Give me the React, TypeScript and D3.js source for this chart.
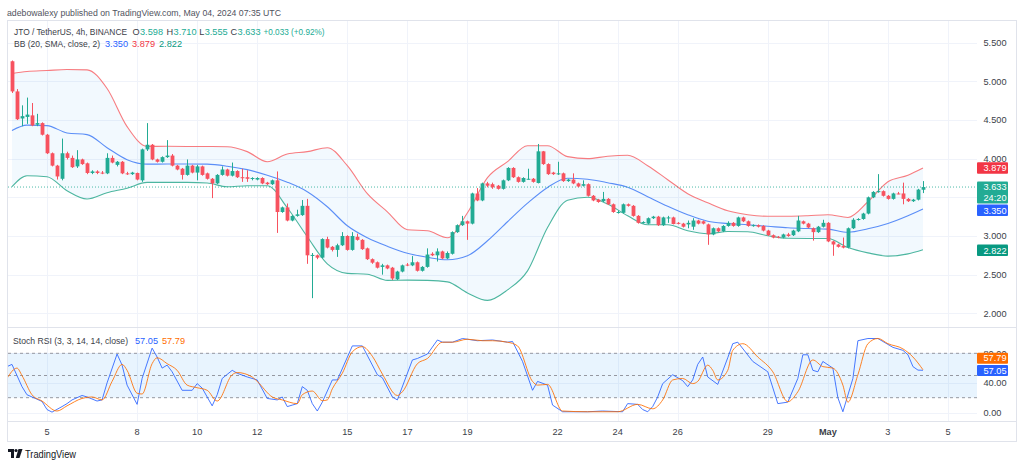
import React from "react";
import * as d3 from "d3";

const W = 1024;
const H = 467;
const FONT = "'Liberation Sans', Arial, sans-serif";
const HOUR4 = 4 * 3600 * 1000;
const DAY = 24 * 3600 * 1000;
const T0 = Date.UTC(2024, 3, 5); // Apr 5 2024 00:00 UTC
const FIRST_K = -7; // first visible 4h candle = Apr 3 20:00

// ---- candles (4h, k = -7 .. 175) ----
const opens = [
  5.26,4.87,4.52,4.54,4.56,4.44,4.46,4.31,4.07,3.91,
  3.74,4.07,4.01,3.90,3.99,3.94,3.815,3.835,3.82,3.81,
  4.01,3.92,3.96,3.81,3.80,3.815,3.72,4.12,4.18,3.99,
  3.96,4.02,4.04,3.91,3.87,3.79,3.91,3.82,3.90,3.81,
  3.74,3.68,3.79,3.86,3.78,3.84,3.76,3.76,3.74,3.73,
  3.75,3.69,3.67,3.72,3.31,3.37,3.20,3.26,3.27,3.39,
  2.75,2.75,2.72,2.96,2.86,2.82,2.88,3.00,2.82,2.99,
  2.95,2.84,2.70,2.66,2.60,2.62,2.59,2.44,2.54,2.63,
  2.62,2.66,2.55,2.60,2.77,2.75,2.80,2.71,2.77,3.05,
  3.14,3.19,3.16,3.55,3.46,3.68,3.67,3.65,3.61,3.72,
  3.88,3.76,3.70,3.74,3.74,3.685,4.095,3.93,3.82,3.80,
  3.81,3.71,3.73,3.68,3.65,3.67,3.52,3.47,3.45,3.48,
  3.41,3.30,3.30,3.41,3.39,3.26,3.17,3.16,3.23,3.25,
  3.14,3.23,3.24,3.17,3.16,3.15,3.12,3.20,3.19,3.15,
  3.02,3.10,3.06,3.13,3.17,3.13,3.24,3.19,3.13,3.14,
  3.13,3.07,3.01,2.99,2.98,3.02,3.01,3.06,3.19,3.16,
  3.10,3.05,3.12,3.17,2.93,2.89,2.87,2.85,3.10,3.21,
  3.22,3.29,3.50,3.57,3.58,3.52,3.48,3.55,3.55,3.48,
  3.45,3.47,3.598,
];
const highs = [
  5.27,4.90,4.69,4.79,4.72,4.58,4.47,4.32,4.08,3.92,
  4.26,4.09,4.04,4.11,4.00,3.95,3.85,3.85,3.84,4.07,
  4.04,3.97,3.97,3.83,3.83,3.82,4.13,4.46,4.19,4.00,
  4.03,4.24,4.06,3.92,3.88,3.99,3.92,3.92,3.91,3.82,
  3.75,3.80,3.90,3.87,3.95,3.85,3.87,3.85,3.76,3.76,
  3.76,3.70,3.73,3.835,3.38,3.42,3.27,3.34,3.465,3.48,
  2.78,2.76,2.97,2.99,2.87,2.90,3.05,3.01,3.05,3.03,
  2.96,2.85,2.71,2.67,2.64,2.63,2.60,2.55,2.63,2.65,
  2.74,2.67,2.61,2.84,2.79,2.84,2.81,2.80,3.06,3.15,
  3.26,3.20,3.56,3.62,3.69,3.70,3.69,3.66,3.73,3.89,
  3.89,3.77,3.76,3.87,3.75,4.19,4.10,3.94,3.83,3.96,
  3.82,3.74,3.81,3.69,3.72,3.68,3.53,3.48,3.57,3.49,
  3.42,3.33,3.42,3.42,3.40,3.27,3.19,3.24,3.26,3.26,
  3.25,3.26,3.25,3.18,3.17,3.20,3.23,3.21,3.20,3.16,
  3.11,3.11,3.14,3.19,3.18,3.25,3.25,3.20,3.15,3.15,
  3.14,3.08,3.02,3.00,3.03,3.04,3.08,3.26,3.20,3.17,
  3.11,3.13,3.21,3.18,2.94,2.90,2.98,3.11,3.23,3.23,
  3.30,3.51,3.58,3.80,3.59,3.53,3.56,3.57,3.69,3.49,
  3.48,3.61,3.71,
];
const lows = [
  4.85,4.50,4.42,4.45,4.42,4.42,4.30,4.06,3.90,3.73,
  3.72,3.99,3.88,3.88,3.92,3.80,3.80,3.80,3.80,3.80,
  3.94,3.90,3.80,3.79,3.79,3.72,3.70,4.10,3.98,3.95,
  3.95,4.01,3.90,3.85,3.73,3.78,3.81,3.72,3.78,3.73,
  3.49,3.67,3.78,3.77,3.77,3.75,3.70,3.70,3.72,3.72,
  3.67,3.66,3.66,3.04,3.30,3.19,3.19,3.25,3.26,2.64,
  2.196,2.70,2.71,2.84,2.80,2.73,2.87,2.81,2.81,2.94,
  2.82,2.69,2.64,2.58,2.50,2.57,2.43,2.43,2.53,2.61,
  2.61,2.54,2.54,2.59,2.74,2.67,2.70,2.70,2.76,3.04,
  3.13,2.95,3.15,3.45,3.45,3.63,3.61,3.60,3.60,3.71,
  3.75,3.69,3.69,3.73,3.69,3.68,3.92,3.79,3.79,3.79,
  3.70,3.70,3.67,3.63,3.64,3.51,3.45,3.43,3.44,3.40,
  3.30,3.29,3.29,3.38,3.25,3.16,3.16,3.15,3.22,3.13,
  3.13,3.17,3.15,3.15,3.11,3.10,3.08,3.15,3.15,2.886,
  3.01,3.05,3.05,3.12,3.12,3.12,3.18,3.12,3.12,3.11,
  3.06,3.00,2.97,2.97,2.97,2.99,3.00,3.05,3.15,3.10,
  2.94,3.04,3.11,2.92,2.744,2.85,2.84,2.84,3.09,3.20,
  3.21,3.28,3.49,3.56,3.51,3.47,3.47,3.54,3.41,3.44,
  3.44,3.46,3.555,
];
const closes = [
  4.87,4.51,4.55,4.57,4.43,4.46,4.31,4.07,3.91,3.77,
  4.07,4.01,3.89,3.99,3.93,3.815,3.835,3.815,3.81,4.01,
  3.95,3.96,3.81,3.80,3.82,3.73,4.12,4.18,3.99,3.96,
  4.02,4.04,3.91,3.86,3.79,3.91,3.82,3.90,3.79,3.74,
  3.68,3.79,3.86,3.78,3.84,3.76,3.75,3.74,3.75,3.75,
  3.68,3.67,3.72,3.31,3.37,3.20,3.26,3.28,3.39,2.75,
  2.755,2.72,2.96,2.85,2.82,2.88,3.00,2.82,3.00,2.95,
  2.83,2.70,2.655,2.59,2.62,2.58,2.45,2.54,2.62,2.62,
  2.66,2.55,2.60,2.76,2.75,2.80,2.71,2.78,3.05,3.14,
  3.19,3.16,3.55,3.46,3.68,3.65,3.63,3.61,3.72,3.88,
  3.76,3.70,3.75,3.74,3.70,4.095,3.93,3.80,3.80,3.81,
  3.71,3.73,3.68,3.64,3.67,3.52,3.46,3.44,3.48,3.41,
  3.31,3.31,3.41,3.39,3.26,3.17,3.18,3.23,3.25,3.14,
  3.24,3.24,3.155,3.16,3.12,3.17,3.20,3.16,3.16,3.02,
  3.10,3.06,3.13,3.17,3.13,3.24,3.19,3.13,3.14,3.12,
  3.07,3.01,2.98,2.98,3.02,3.00,3.07,3.20,3.16,3.11,
  3.05,3.12,3.17,2.93,2.89,2.86,2.85,3.10,3.21,3.22,
  3.29,3.50,3.57,3.58,3.52,3.48,3.55,3.545,3.48,3.45,
  3.47,3.60,3.633,
];

// ---- Bollinger Bands (20, SMA, close, 2), sampled at candle index k ----
const bbIdx = [-7,-4,0,4,8,12,16,20,24,28,32,36,40,44,48,52,56,60,64,68,72,76,80,84,88,92,96,100,104,108,112,116,120,124,128,132,136,140,144,148,152,156,160,164,168,172,175];
const bbUpper = [5.101,5.127,5.140,5.153,5.149,4.907,4.415,4.159,4.160,4.158,4.157,4.155,4.091,3.961,4.061,4.091,4.142,3.909,3.547,3.313,3.080,3.067,2.977,3.301,3.754,3.961,4.168,4.168,4.026,4.000,4.032,4.045,3.909,3.728,3.547,3.430,3.326,3.275,3.255,3.255,3.262,3.275,3.240,3.443,3.702,3.786,3.879];
const bbBasis = [4.363,4.434,4.427,4.333,4.311,4.142,3.987,3.929,3.931,3.931,3.929,3.903,3.858,3.786,3.696,3.573,3.378,3.132,2.977,2.867,2.776,2.724,2.692,2.744,2.938,3.184,3.424,3.628,3.747,3.734,3.689,3.631,3.508,3.385,3.275,3.190,3.162,3.145,3.126,3.106,3.096,3.089,3.048,3.093,3.162,3.262,3.350];
const bbLower = [3.637,3.780,3.767,3.585,3.478,3.560,3.618,3.693,3.693,3.693,3.685,3.637,3.650,3.650,3.365,2.990,2.640,2.517,2.506,2.426,2.429,2.426,2.407,2.264,2.167,2.303,2.549,3.110,3.462,3.501,3.413,3.262,3.145,3.145,3.067,3.028,3.058,3.054,3.003,2.970,2.968,2.968,2.851,2.782,2.740,2.769,2.822];

// ---- Stoch RSI (3, 3, 14, 14, close) ----
const stochKIdx = [-8,-7,-5,-4,-3,-1,0,1,3,4,5,7,8,10,11,12,14,15,16,18,19,21,22,23,24,25,27,29,30,31,33,34,35,37,38,40,42,44,46,47,48,49,50,51,52,53,54,55,57,58,61,63,66,67,69,70,73,74,76,78,79,81,83,86,89,92,93,95,97,98,100,101,103,108,111,115,116,118,119,120,121,122,123,125,127,128,129,130,131,132,134,136,137,138,141,144,146,148,150,151,152,153,154,155,157,158,159,161,162,164,166,169,171,172,173,174,175];
const stochK = [62,65,35,24,21,15,4,0.5,8,12,17,23,21,15.5,17,40,79,64,37,11,46,87,75,60,64,55,30,30,39,33,9,24,46,57,53,48,44,19,17,21,8,10,12,35,30,12,2,14,44,44,90,90,51,47,21,17,71,73,79,98,95,95,100,97,98,95,96,69,30,42,37,10,1,1,2,1,12,11,4,1,8,21,39,51,43,35,44,65,75,48,38,74,93,95,69,55,12,14,46,78,78,57,55,69,60,20,1,46,97,100,100,88,84,78,62,57.3,57.05];
const stochDIdx = [-8,-6,-5,-3,-1,2,4,7,9,11,13,15,16,18,19,21,22,24,26,28,30,32,34,37,38,41,42,45,47,50,51,53,55,56,57,59,61,63,65,67,70,71,74,76,79,81,84,87,89,92,94,97,98,100,103,108,114,118,121,123,125,127,129,130,132,133,134,136,137,139,142,145,148,150,153,155,157,159,160,162,164,166,168,171,173,175];
const stochD = [46,60,50,24,15.5,2,9,19,21,17,42,65,57,26,25,66,74,66,57,37,33.5,30,15.5,51,54,48,42,21,17,12,24,29,16,17,32,53,82,89,76,52,23,28,66,73,95,95,99,97,97,95,90,42,37,38,2,1,1,11,5,17,44,46,39,42,64,57,44,57,84,93,75,55,14.6,28,71,62,60,37,14,51,93,100,93,86,75,57.79];

// ---- axes ----
const timeTickDates = ["2024-04-05","2024-04-08","2024-04-10","2024-04-12","2024-04-15","2024-04-17","2024-04-19","2024-04-22","2024-04-24","2024-04-26","2024-04-29","2024-05-01","2024-05-03","2024-05-05"];
const timeTickLabels = ["5","8","10","12","15","17","19","22","24","26","29","May","3","5"];
const priceTicks = [2.0, 2.5, 3.0, 3.5, 4.0, 4.5, 5.0, 5.5];
const stochTicks = [0, 40, 80];
const stochLevels = [80, 50, 20];

// legend pieces
const ohlcLetters = ["O", "H", "L", "C"];
const ohlcValues = ["3.598", "3.710", "3.555", "3.633"];

const UP = "#22ab94";
const DOWN = "#f7525f";
const GRID = "#f0f3fa";
const BORDER = "#e0e3eb";
const TXT = "#3b3e48";

export default function App() {
  const x = d3
    .scaleUtc()
    .domain([new Date(T0), new Date(T0 + 30 * DAY)])
    .range([47, 948]);
  const y = d3.scaleLinear().domain([2, 5.5]).range([313.3, 42.7]);
  const ys = d3.scaleLinear().domain([0, 80]).range([412.5, 353.3]);
  const tOf = (k: number) => new Date(T0 + k * HOUR4);

  const PL = 8, PR = 977, MT = 21, MB = 327, SB = 421;

  const bb = bbIdx.map((k, i) => ({ t: tOf(k), u: bbUpper[i], m: bbBasis[i], l: bbLower[i] }));
  const area = d3
    .area<any>()
    .x((d) => x(d.t))
    .y0((d) => y(d.l))
    .y1((d) => y(d.u))
    .curve(d3.curveMonotoneX);
  const lineOf = (key: string) =>
    d3
      .line<any>()
      .x((d) => x(d.t))
      .y((d) => y(d[key]))
      .curve(d3.curveMonotoneX)(bb) as string;

  const kPts = stochKIdx.map((k, i) => [x(tOf(k)), ys(stochK[i])] as [number, number]);
  const dPts = stochDIdx.map((k, i) => [x(tOf(k)), ys(stochD[i])] as [number, number]);
  const kLine = d3.line().curve(d3.curveLinear)(kPts) as string;
  const dLine = d3.line().curve(d3.curveMonotoneX)(dPts) as string;

  const candles = opens.map((o, i) => {
    const k = FIRST_K + i;
    const cx = Math.round(x(tOf(k)));
    const c = closes[i];
    const up = c >= o;
    const top = y(Math.max(o, c));
    const bot = y(Math.min(o, c));
    return { cx, up, top, h: Math.max(1, bot - top), hi: y(highs[i]), lo: y(lows[i]) };
  });

  const lastClose = closes[closes.length - 1];
  const yLast = y(lastClose);
  const yBasis = y(bbBasis[bbBasis.length - 1]);
  const yUpper = y(bbUpper[bbUpper.length - 1]);
  const yLower = y(bbLower[bbLower.length - 1]);
  const lastTop = yLast - 5.5;
  const lastBottom = lastTop + 22;
  const basisTop = Math.max(yBasis - 5.7, lastBottom + 1);

  const kLast = stochK[stochK.length - 1];
  const dLast = stochD[stochD.length - 1];
  const kTop = ys(kLast) - 5.3;
  const dTop = kTop - 12.3;

  const BOXX = 977, BOXW = 31, LBLX = 983.5;
  const ohlcLetterX = [132.6, 166.6, 199.3, 230.6];
  const ohlcLetterW = [7.4, 7.0, 5.4, 7.0];

  return (
    <div style={{ position: "absolute", left: 0, top: 0, width: W, height: H, background: "#fff" }}>
      <svg width={W} height={H} style={{ display: "block", fontFamily: FONT }}>
        <defs>
          <clipPath id="mainClip">
            <rect x={PL} y={MT} width={PR - PL} height={MB - MT} />
          </clipPath>
          <clipPath id="stochClip">
            <rect x={PL} y={MB + 1} width={PR - PL} height={SB - MB - 1} />
          </clipPath>
        </defs>
        <rect width={W} height={H} fill="#fff" />

        {/* header */}
        <text x={7} y={16} fontSize={9.2} fill="#50535e" textLength={274} lengthAdjust="spacingAndGlyphs">
          adebowalexy published on TradingView.com, May 04, 2024 07:35 UTC
        </text>

        {/* grid */}
        <g>
          {timeTickDates.map((d, i) => {
            const gx = Math.round(x(new Date(d + "T00:00:00Z"))) + 0.5;
            return <line key={"vg" + i} x1={gx} x2={gx} y1={MT} y2={SB} stroke={GRID} strokeWidth={1} />;
          })}
          {priceTicks.map((p, i) => {
            const gy = Math.round(y(p)) + 0.5;
            return <line key={"hg" + i} x1={PL} x2={PR} y1={gy} y2={gy} stroke={GRID} strokeWidth={1} />;
          })}
          {stochTicks.map((v, i) => {
            const gy = Math.round(ys(v)) + 0.5;
            return <line key={"sg" + i} x1={PL} x2={PR} y1={gy} y2={gy} stroke={GRID} strokeWidth={1} />;
          })}
        </g>

        {/* main pane */}
        <g clipPath="url(#mainClip)">
          <path d={area(bb) as string} fill="rgba(33,150,243,0.06)" />
          <path d={lineOf("u")} fill="none" stroke="#f77c80" strokeWidth={1.1} />
          <path d={lineOf("m")} fill="none" stroke="#5b8ef7" strokeWidth={1.1} />
          <path d={lineOf("l")} fill="none" stroke="#4db6a0" strokeWidth={1.1} />
          <line x1={PL} x2={PR} y1={yLast} y2={yLast} stroke={UP} strokeWidth={1} strokeDasharray="1 2" opacity={0.8} />
          {candles.map((c, i) => (
            <g key={"c" + i} fill={c.up ? UP : DOWN}>
              <rect x={c.cx} y={c.hi} width={1} height={Math.max(1, c.lo - c.hi)} />
              <rect x={c.cx - 1.4} y={c.top} width={3.8} height={c.h} />
            </g>
          ))}
        </g>

        {/* legend main */}
        <text x={14} y={35} fontSize={8.4} fill={TXT} textLength={113} lengthAdjust="spacingAndGlyphs">
          JTO / TetherUS, 4h, BINANCE
        </text>
        {ohlcLetters.map((l, i) => (
          <g key={"ohlc" + i}>
            <text x={ohlcLetterX[i]} y={35} fontSize={9.2} fill={TXT}>{l}</text>
            <text x={ohlcLetterX[i] + ohlcLetterW[i]} y={35} fontSize={9.2} fill={UP}>{ohlcValues[i]}</text>
          </g>
        ))}
        <text x={263.5} y={35} fontSize={8.6} fill={UP} textLength={61} lengthAdjust="spacingAndGlyphs">
          +0.033 (+0.92%)
        </text>
        <text x={14} y={46.5} fontSize={9} fill={TXT} textLength={86} lengthAdjust="spacingAndGlyphs">
          BB (20, SMA, close, 2)
        </text>
        <text x={105} y={46.5} fontSize={9.2} fill="#2962ff">3.350</text>
        <text x={132} y={46.5} fontSize={9.2} fill="#f23645">3.879</text>
        <text x={159} y={46.5} fontSize={9.2} fill="#089981">2.822</text>

        {/* pane separators & frame */}
        <line x1={PL} x2={1016} y1={MB + 0.5} y2={MB + 0.5} stroke={BORDER} />
        <line x1={PL} x2={1016} y1={SB + 0.5} y2={SB + 0.5} stroke={BORDER} />
        <rect x={7.5} y={20.5} width={1009} height={421} fill="none" stroke={BORDER} />

        {/* stoch pane */}
        <g clipPath="url(#stochClip)">
          <rect x={PL} y={ys(80)} width={PR - PL} height={ys(20) - ys(80)} fill="rgba(33,150,243,0.1)" />
          {stochLevels.map((v, i) => (
            <line key={"lv" + i} x1={PL} x2={PR} y1={ys(v)} y2={ys(v)} stroke="#9598a1" strokeWidth={1} strokeDasharray="3 3" />
          ))}
          <path d={kLine} fill="none" stroke="#2962ff" strokeWidth={1} opacity={0.85} />
          <path d={dLine} fill="none" stroke="#ff6d00" strokeWidth={1} opacity={0.85} />
        </g>
        <text x={13} y={343.7} fontSize={9} fill={TXT} textLength={115} lengthAdjust="spacingAndGlyphs">
          Stoch RSI (3, 3, 14, 14, close)
        </text>
        <text x={135} y={343.7} fontSize={9.2} fill="#2962ff">57.05</text>
        <text x={162} y={343.7} fontSize={9.2} fill="#ff6d00">57.79</text>

        {/* price axis */}
        {priceTicks.map((p, i) => (
          <text key={"pt" + i} x={LBLX} y={y(p) + 3.2} fontSize={9.2} fill={TXT}>
            {p.toFixed(3)}
          </text>
        ))}
        {stochTicks.map((v, i) => (
          <text key={"st" + i} x={LBLX} y={ys(v) + 3.2} fontSize={9.2} fill={TXT}>
            {v.toFixed(2)}
          </text>
        ))}

        {/* value boxes main */}
        <rect x={BOXX} y={yUpper - 5.7} width={BOXW} height={11.5} fill="#f23645" rx={1} />
        <text x={LBLX} y={yUpper + 3.3} fontSize={9.2} fill="#fff">{bbUpper[bbUpper.length - 1].toFixed(3)}</text>
        <rect x={BOXX} y={lastTop} width={BOXW} height={22} fill={UP} rx={1} />
        <text x={LBLX} y={yLast + 3.3} fontSize={9.2} fill="#fff">{lastClose.toFixed(3)}</text>
        <text x={LBLX} y={yLast + 13.6} fontSize={9.2} fill="#fff">24:20</text>
        <rect x={BOXX} y={basisTop} width={BOXW} height={11.5} fill="#2962ff" rx={1} />
        <text x={LBLX} y={basisTop + 9} fontSize={9.2} fill="#fff">{bbBasis[bbBasis.length - 1].toFixed(3)}</text>
        <rect x={BOXX} y={yLower - 5.2} width={BOXW} height={11.5} fill="#089981" rx={1} />
        <text x={LBLX} y={yLower + 3.8} fontSize={9.2} fill="#fff">{bbLower[bbLower.length - 1].toFixed(3)}</text>

        {/* value boxes stoch */}
        <rect x={BOXX} y={dTop} width={BOXW} height={11} fill="#ff6d00" rx={1} />
        <text x={LBLX} y={dTop + 8.6} fontSize={9.2} fill="#fff">{dLast.toFixed(2)}</text>
        <rect x={BOXX} y={kTop} width={BOXW} height={11} fill="#2962ff" rx={1} />
        <text x={LBLX} y={kTop + 8.6} fontSize={9.2} fill="#fff">{kLast.toFixed(2)}</text>

        {/* time axis */}
        {timeTickDates.map((d, i) => (
          <text
            key={"tt" + i}
            x={x(new Date(d + "T00:00:00Z"))}
            y={434.5}
            fontSize={9.2}
            textAnchor="middle"
            fill={TXT}
            fontWeight={timeTickLabels[i] === "May" ? 700 : 400}
          >
            {timeTickLabels[i]}
          </text>
        ))}

        {/* TradingView logo */}
        <g fill="#131722">
          <rect x={8} y={449} width={6} height={3} />
          <rect x={11} y={449} width={3} height={9} />
          <circle cx={16} cy={450.5} r={1.6} />
          <path d="M18.5 449 L22.5 449 L19.5 458 L15.8 458 Z" />
        </g>
        <text x={25} y={457.5} fontSize={10} fill="#131722" textLength={51} lengthAdjust="spacingAndGlyphs">
          TradingView
        </text>
      </svg>
    </div>
  );
}
